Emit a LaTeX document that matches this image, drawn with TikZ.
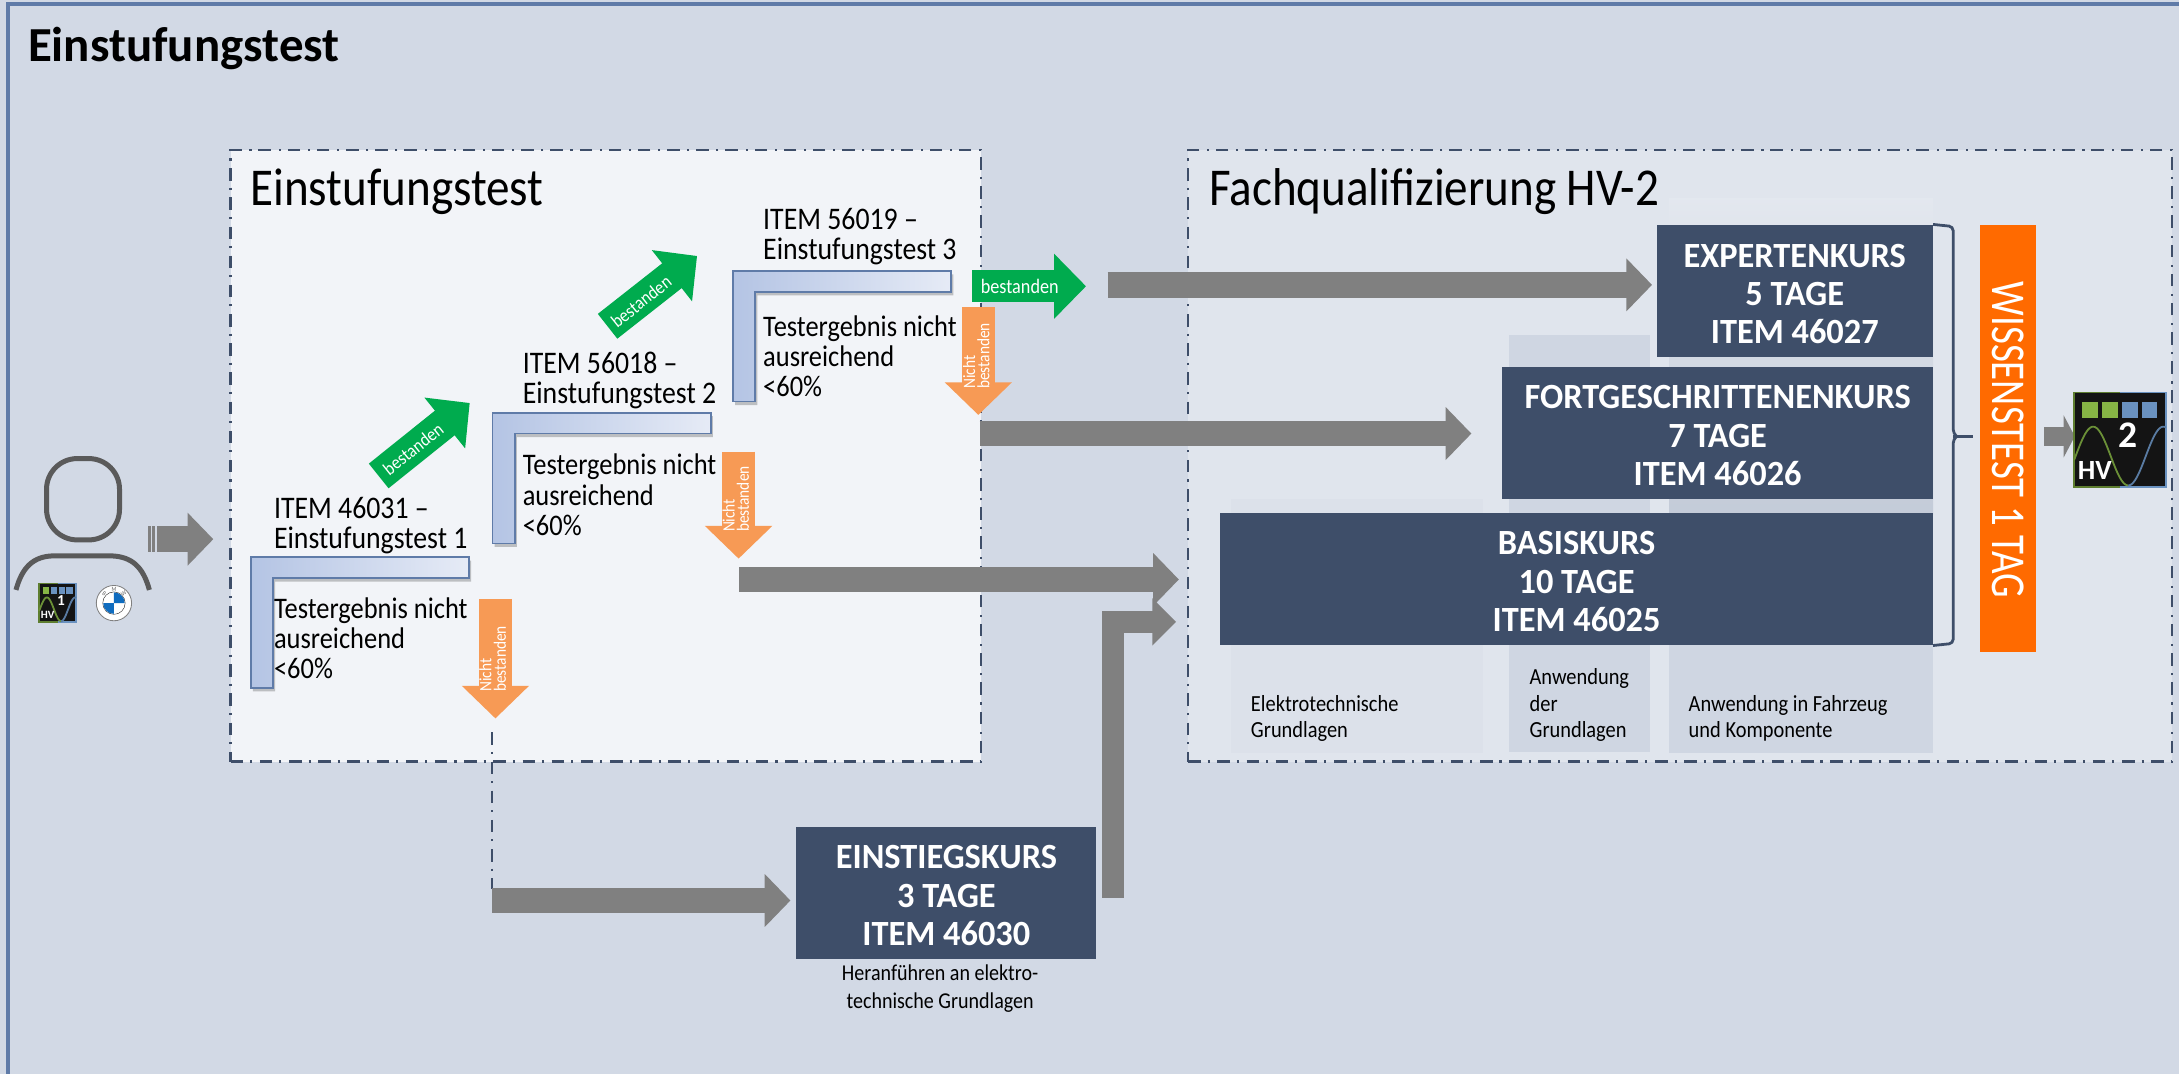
\documentclass[tikz,border=0pt]{standalone}
\usepackage{fontspec}
\setmainfont[FakeStretch=0.885]{Carlito}
\newfontfamily\titlef{Carlito}
\newfontfamily\kursf[FakeStretch=0.97]{Carlito}
\newfontfamily\wissf[FakeStretch=0.8]{Carlito}
\usetikzlibrary{arrows.meta,calc}
\definecolor{bgc}{HTML}{D2D9E5}
\definecolor{framec}{HTML}{5F7BA8}
\definecolor{panela}{HTML}{F2F4F8}
\definecolor{panelb}{HTML}{E0E5ED}
\definecolor{navy}{HTML}{3E4E69}
\definecolor{colone}{HTML}{DCE1EA}
\definecolor{coltwo}{HTML}{CFD6E2}
\definecolor{gbar}{HTML}{808080}
\definecolor{grn}{HTML}{00AB4E}
\definecolor{org}{HTML}{F79A55}
\definecolor{orgbar}{HTML}{FF6A00}
\definecolor{lla}{HTML}{B4C4E4}
\definecolor{llb}{HTML}{E6EBF6}
\definecolor{persc}{HTML}{5A5A5A}
\definecolor{hvg}{HTML}{86B445}
\definecolor{hvb}{HTML}{6A92C0}
\definecolor{bmwb}{HTML}{0F6CBF}
\tikzset{
  panelbox/.style={draw=navy,line width=1.8pt,dash pattern=on 9pt off 5pt on 1.5pt off 5.5pt,inner sep=0pt},
  kurs/.style={fill=navy,inner sep=0pt},
  kurstext/.style={text=white,inner sep=0pt,align=center,font=\kursf\fontsize{25.5}{27.6}\selectfont\bfseries},
  lab/.style={anchor=base west,inner sep=0pt,align=left,font=\fontsize{21.5}{21.6}\selectfont},
  labtop/.style={anchor=base west,inner sep=0pt,align=left,font=\fontsize{22.6}{21.6}\selectfont},
  small/.style={anchor=base west,inner sep=0pt,align=left,font=\fontsize{16.6}{18.8}\selectfont},
  graybar/.style={draw=gbar,line width=18.5pt,-{Triangle[width=37pt,length=18.5pt,fill=gbar]}},
  grnarrow/.style={draw=grn,line width=22.7pt,-{Triangle[width=45.5pt,length=23pt,fill=grn]}},
  orgarrow/.style={draw=org,line width=23.5pt,-{Triangle[width=47pt,length=23.5pt,fill=org]}},
  whitesmall/.style={text=white,inner sep=0pt,align=left,font=\fontsize{12.5}{10.3}\selectfont},
  lshape/.style={draw=framec,line width=1.2pt,left color=lla,right color=llb},
  dashlink/.style={draw=navy,line width=1.8pt,dash pattern=on 9pt off 5pt on 1.5pt off 5.5pt}
}
\newcommand{\lform}[2]{%
  \fill[black,opacity=.22] (#1+1.5,#2+2.5) -- ++(157,0) -- ++(0,15) -- ++(-141,0) -- ++(0,79) -- ++(-16,0) -- cycle;
  \draw[lshape] (#1,#2) -- ++(157,0) -- ++(0,15) -- ++(-141,0) -- ++(0,79) -- ++(-16,0) -- cycle;}
% x y scale secondsquare digit digitsize hvsize name
\newcommand{\hvicon}[8]{%
  \begin{scope}[shift={(#1,#2)},scale=#3]
    \fill[black!92!white] (0,0) rectangle (275,282);
    \draw[hvg!70!black,line width=1.2pt] (137,0) -- (0,0) -- (0,282) -- (137,282);
    \draw[hvb,line width=1.2pt] (137,0) -- (275,0) -- (275,282) -- (137,282);
    \fill[hvg] (25,27) rectangle (72,75);
    \fill[#4] (84,27) rectangle (132,75);
    \fill[hvb] (144,27) rectangle (192,75);
    \fill[hvb] (202,27) rectangle (249,75);
    \draw[hvg!80!black,line width=1.3pt] plot[domain=0:162,samples=40,smooth] (\x,{190-88*cos((\x-57)*1.7143)});
    \draw[hvb!85!black,line width=1.3pt] plot[domain=162:275,samples=30,smooth] (\x,{190-88*cos((\x-57)*1.7143)});
    \node[text=white,inner sep=0pt,font=\titlef\fontsize{#6}{#6}\selectfont\bfseries] (#8d) at (162,128) {#5};
    \node[text=white,inner sep=0pt,font=\titlef\fontsize{#7}{#7}\selectfont\bfseries] (#8h) at (62,232) {HV};
  \end{scope}}
\begin{document}
\begin{tikzpicture}[x=1pt,y=-1pt]
\useasboundingbox (0,0) rectangle (1568,772.8);
\fill[bgc] (0,0) rectangle (1568,772.8);
\draw[framec,line width=3pt] (5.5,772.8) -- (5.5,3) -- (1568,3);
\node[anchor=base west,inner sep=0pt,font=\titlef\fontsize{35.2}{35.2}\selectfont\bfseries] (title) at (20,44) {Einstufungstest};

% panels
\node[panelbox,fill=panela,minimum width=540pt,minimum height=440pt] (pa) at (436,328) {};
\node[panelbox,fill=panelb,minimum width=708pt,minimum height=440pt] (pb) at (1209,328) {};
\node[anchor=base west,inner sep=0pt,font=\fontsize{38.3}{38.3}\selectfont] (pat) at (180,148) {Einstufungstest};
\node[anchor=base west,inner sep=0pt,font=\fontsize{38.3}{38.3}\selectfont] (pbt) at (870,148) {Fachqualifizierung HV-2};

% columns
\fill[colone] (885.5,359) rectangle (1067.5,541.5);
\fill[coltwo] (1086,241) rectangle (1187.5,541);
\shade[top color=panelb!90!white,bottom color=coltwo!92!navy] (1201,143) rectangle (1391,370);
\fill[coltwo] (1201,369) rectangle (1391,541.5);

% course boxes
\node[kurs,minimum width=199pt,minimum height=95pt] (expert) at (1291.5,209.5) {};
\node[kurs,minimum width=310pt,minimum height=95pt] (fort) at (1236,311.5) {};
\node[kurs,minimum width=513pt,minimum height=95pt] (basis) at (1134.5,416.5) {};
\node[kurs,minimum width=216pt,minimum height=95pt] (einst) at (681,642.5) {};
\node[kurstext] (expertt) at ([yshift=-2pt]expert.center) {EXPERTENKURS\\5 TAGE\\ITEM 46027};
\node[kurstext] (fortt) at ([yshift=-2pt]fort.center) {FORTGESCHRITTENENKURS\\7 TAGE\\ITEM 46026};
\node[kurstext] (basist) at ([yshift=-2pt]basis.center) {BASISKURS\\10 TAGE\\ITEM 46025};
\node[kurstext] (einstt) at ([yshift=-2pt]einst.center) {EINSTIEGSKURS\\3 TAGE\\ITEM 46030};

\node[small] (c1) at (900,530.5) {Elektrotechnische\\Grundlagen};
\node[small] (c2) at (1100.5,530.5) {Anwendung\\der\\Grundlagen};
\node[small] (c3) at (1215,530.5) {Anwendung in Fahrzeug\\und Komponente};
\node[anchor=base,inner sep=0pt,align=center,font=\fontsize{16.3}{20}\selectfont] (c4) at (676.5,725.5) {Heranführen an elektro-\\technische Grundlagen};

% brace
\draw[navy,line width=2pt,rounded corners=3pt] (1391,161.5) -- (1405.5,163) -- (1405.5,312) -- (1408,314);
\draw[navy,line width=2pt,rounded corners=3pt] (1391,464.5) -- (1405.5,463) -- (1405.5,316) -- (1408,314);
\draw[navy,line width=2pt] (1405.5,314) -- (1420,314);

% orange bar
\node[fill=orgbar,minimum width=40pt,minimum height=307pt,inner sep=0pt] (wt) at (1445,315.5) {};
\node[rotate=-90,text=white,inner sep=0pt,font=\wissf\fontsize{35}{35}\selectfont] (wtt) at (1445,316.5) {WISSENSTEST 1 TAG};

% L forms and labels
\lform{180.5}{401}
\lform{354.5}{297}
\lform{527.5}{195}
\node[labtop] (t1a) at (197,394.6) {ITEM 46031 --\\Einstufungstest 1};
\node[lab] (t1b) at (197,488.6) {Testergebnis nicht\\ausreichend\\<60\%};
\node[labtop] (t2a) at (376,290.6) {ITEM 56018 --\\Einstufungstest 2};
\node[lab] (t2b) at (376,385) {Testergebnis nicht\\ausreichend\\<60\%};
\node[labtop] (t3a) at (549,187) {ITEM 56019 --\\Einstufungstest 3};
\node[lab] (t3b) at (549,285.5) {Testergebnis nicht\\ausreichend\\<60\%};

% coordinates
\coordinate (g1s) at (797,205);
\coordinate (g2s) at (705,312);
\coordinate (g3s) at (532,417);
\coordinate (g4s) at (801,646);
\coordinate (g4m) at (801,447.5);
\coordinate (g5s) at (354,648);
\coordinate (pers) at (113,388);
\coordinate (perst) at (153.5,388);
\coordinate (a1s) at (272.5,342.5);
\coordinate (a1e) at (338,290);
\coordinate (a2s) at (437.2,234.8);
\coordinate (a2e) at (501.6,184.2);
\coordinate (a3s) at (699.6,206);
\coordinate (a3e) at (781.5,206);
\coordinate (oas) at (356.5,431);
\coordinate (oae) at (356.5,517);
\coordinate (obs) at (531.5,325);
\coordinate (obe) at (531.5,402);
\coordinate (ocs) at (704,221);
\coordinate (oce) at (704,298.6);

% dashed link
\draw[dashlink] (354,527) -- (354,640);

% gray arrows
\draw[graybar,shorten >=3pt] (g1s) -- (g1s -| expert.west);
\draw[graybar,shorten >=22pt] (g2s) -- (g2s -| fort.west);
\draw[graybar,shorten >=29.5pt] (g3s) -- (g3s -| basis.west);
\draw[graybar,line width=16pt,-{Triangle[width=33pt,length=17pt,fill=gbar]},shorten >=31.5pt] (g4s) |- (g4m -| basis.west);
\draw[graybar,shorten >=4pt] (g5s) -- (g5s -| einst.west);

% green arrows
\draw[grnarrow] (a1s) -- (a1e);
\draw[grnarrow] (a2s) -- (a2e);
\draw[grnarrow] (a3s) -- (a3e);
\node[text=white,inner sep=0pt,rotate=38.5,font=\fontsize{13.5}{13.5}\selectfont] (a1l) at (297.3,323) {bestanden};
\node[text=white,inner sep=0pt,rotate=38.5,font=\fontsize{13.5}{13.5}\selectfont] (a2l) at (461.3,217) {bestanden};
\node[text=white,inner sep=0pt,font=\fontsize{14.8}{14.8}\selectfont] (a3l) at (733.8,206) {bestanden};

% orange arrows
\draw[orgarrow] (oas) -- (oae);
\draw[orgarrow] (obs) -- (obe);
\draw[orgarrow] (ocs) -- (oce);
\node[whitesmall,rotate=90,anchor=west] (oal) at (354.5,498) {Nicht\\bestanden};
\node[whitesmall,rotate=90,anchor=west] (obl) at (529.5,383) {Nicht\\bestanden};
\node[whitesmall,rotate=90,anchor=west] (ocl) at (702.5,280) {Nicht\\bestanden};

% person
\draw[persc,line width=3.6pt,rounded corners=22pt] (33.5,330) rectangle (86,388.5);
\draw[persc,line width=3.6pt] (11.5,424.5) .. controls (16,408) and (24,400.5) .. (38,400) -- (80,400) .. controls (95,400.5) and (103,408) .. (107.5,424.5);
\fill[gbar] (106.7,378.8) rectangle (108.5,397.2);
\fill[gbar] (109.3,378.8) rectangle (111.6,397.2);
\draw[graybar] (pers) -- (perst);
\hvicon{28.2}{420}{0.0971}{hvb}{1}{11}{8}{ia}

% BMW roundel
\coordinate (bmw) at (82,434);
\draw[gray,line width=.6pt,fill=white] (bmw) circle (12.7);
\draw[black!70,line width=.5pt] (bmw) circle (8);
\fill[white] (bmw) circle (7.7);
\fill[bmwb] (bmw) -- ++(0,-7.7) arc[start angle=270,end angle=360,radius=7.7] -- cycle;
\fill[bmwb] (bmw) -- ++(0,7.7) arc[start angle=90,end angle=180,radius=7.7] -- cycle;
\node[inner sep=0pt,text=black!60,rotate=-35,font=\fontsize{4.5}{4.5}\selectfont] (bb) at (75,427) {B};
\node[inner sep=0pt,text=black!60,font=\fontsize{4.5}{4.5}\selectfont] (bm) at (82,424.3) {M};
\node[inner sep=0pt,text=black!60,rotate=35,font=\fontsize{4.5}{4.5}\selectfont] (bw) at (89,427) {W};

% arrow to result
\coordinate (r1) at (1471,314);
\coordinate (r2) at (1493,314);
\draw[graybar,line width=14pt,-{Triangle[width=30pt,length=8pt,fill=gbar]}] (r1) -- (r2);
\hvicon{1492.5}{282.5}{0.2405}{hvg}{2}{27}{20}{ib}
\end{tikzpicture}
\end{document}
